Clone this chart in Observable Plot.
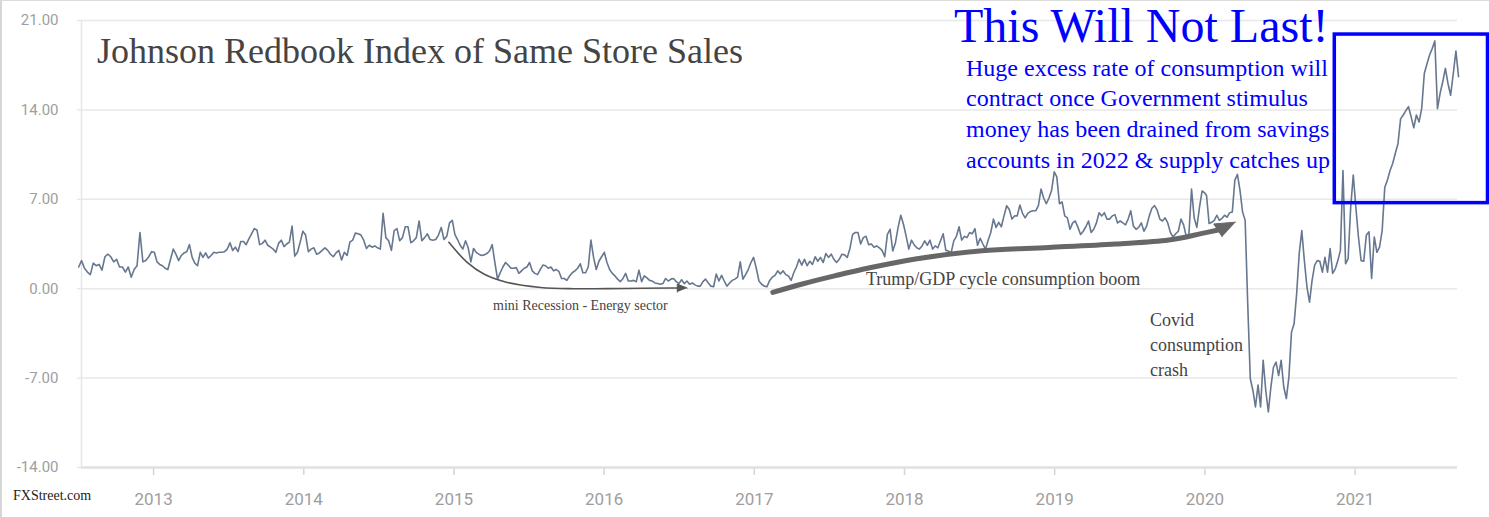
<!DOCTYPE html>
<html>
<head>
<meta charset="utf-8">
<script src="https://cdn.jsdelivr.net/npm/d3@7"></script>
<script src="https://cdn.jsdelivr.net/npm/@observablehq/plot@0.6"></script>
<style>
  html, body { margin: 0; padding: 0; background: #fff; }
  #wrap { position: relative; width: 1489px; height: 517px; overflow: hidden; }
  #border { position: absolute; left: 0; top: 0; width: 1489px; height: 517px; box-sizing: border-box;
            border-left: 2px solid #d6d6d6; border-top: 1px solid #dcdcdc; pointer-events: none; }
</style>
</head>
<body>
<div id="wrap"><div id="border"></div></div>
<script>
// ---- Johnson Redbook weekly same-store sales (% y/y) ----
const v2012 = [1.7, 2.2, 1.6, 1.3, 1.1, 2.0, 1.8, 1.9, 1.45, 2.5, 2.7, 2.5, 2.1, 2.3, 1.7, 1.7, 1.3, 1.7, 0.9, 1.5, 1.8, 4.4, 2.1, 2.2, 2.5, 2.9];
const v2013 = [2.85, 2.1, 1.9, 1.8, 1.6, 1.5, 2.3, 3.1, 2.7, 2.2, 2.6, 2.8, 2.9, 3.45, 2.45, 2.0, 1.8, 2.85, 2.45, 2.8, 2.4, 2.6, 2.85, 2.8, 2.85, 2.85, 2.9, 3.1, 3.6, 3.0, 3.25, 2.9, 3.7, 3.7, 3.45, 3.9, 4.3, 4.7, 4.6, 3.45, 3.55, 3.8, 3.4, 3.25, 3.1, 2.85, 3.55, 3.8, 3.3, 3.5, 3.65, 4.9, 2.55, 2.85, 3.65, 4.5];
const v2014 = [4.2, 2.9, 3.1, 3.2, 2.7, 2.8, 3.0, 3.2, 3.0, 2.7, 2.5, 2.8, 3.0, 2.25, 2.85, 2.6, 3.65, 3.8, 4.35, 4.3, 4.2, 3.8, 3.15, 3.4, 3.25, 3.35, 3.2, 3.1, 5.9, 4.0, 3.75, 3.0, 4.55, 4.7, 3.75, 4.0, 4.85, 4.85, 3.6, 3.75, 4.0, 5.3, 3.75, 4.0, 4.3, 3.85, 3.8, 3.85, 4.2, 4.8, 3.85, 4.1, 5.15, 5.35];
const v2015 = [4.25, 3.85, 3.4, 3.1, 3.75, 3.2, 2.1, 3.15, 2.85, 2.7, 2.6, 2.65, 2.75, 2.95, 3.45, 2.05, 0.75, 1.25, 1.7, 2.05, 1.85, 1.6, 1.6, 1.65, 1.2, 1.4, 1.6, 1.7, 2.05, 1.4, 1.2, 1.1, 1.5, 1.85, 1.8, 1.6, 1.7, 1.4, 1.5, 1.35, 0.8, 0.8, 0.65, 1.0, 1.25, 1.4, 1.6, 1.95, 1.25, 1.25, 1.7, 3.8, 2.45, 1.5, 2.15, 2.5];
const v2016 = [2.85, 2.05, 1.5, 1.2, 1.0, 0.75, 0.55, 0.8, 1.2, 0.6, 0.6, 0.65, 0.55, 1.45, 0.55, 1.0, 0.85, 0.65, 0.6, 0.45, 0.4, 0.35, 0.4, 0.8, 0.6, 0.75, 0.8, 0.55, 0.4, 0.7, 0.4, 0.6, 0.35, 0.45, 0.3, 0.2, 0.2, 0.55, 0.75, 0.45, 0.2, 0.15, 1.15, 0.6, 1.05, 0.6, 0.2, 0.45, 0.65, 0.75, 0.9, 2.1, 0.75, 1.1, 1.5, 2.05, 2.45];
const v2017 = [1.6, 0.6, 0.35, 0.2, 0.15, 0.65, 0.9, 1.05, 1.4, 1.15, 1.4, 1.1, 1.0, 0.65, 1.25, 1.7, 2.3, 1.85, 2.3, 1.8, 2.15, 1.9, 2.5, 2.15, 2.45, 2.05, 2.75, 2.45, 2.7, 2.3, 2.05, 2.3, 2.7, 2.65, 2.45, 3.15, 4.25, 4.4, 4.4, 3.5, 4.0, 4.1, 3.45, 3.5, 3.25, 3.35, 3.2, 3.0, 2.5, 4.25, 4.65, 2.95, 3.6, 4.8, 5.75, 5.05];
const v2018 = [4.1, 3.1, 3.8, 3.45, 3.2, 3.1, 3.35, 3.75, 3.4, 3.8, 3.1, 3.35, 3.2, 3.75, 4.3, 3.0, 2.95, 2.8, 3.75, 4.1, 4.85, 3.8, 4.1, 4.0, 4.4, 4.3, 4.7, 3.4, 3.95, 3.5, 3.1, 3.8, 4.4, 5.45, 4.8, 5.2, 4.85, 5.7, 6.5, 6.2, 5.45, 5.7, 5.7, 6.55, 5.9, 5.55, 5.9, 6.05, 6.1, 6.1, 6.5, 7.8, 7.1, 6.65, 7.1, 7.7, 9.15];
const v2019 = [8.75, 6.65, 6.8, 5.7, 5.55, 4.65, 5.15, 5.3, 4.8, 4.25, 4.5, 4.85, 5.3, 4.4, 4.65, 5.15, 5.95, 5.7, 5.95, 5.45, 5.45, 5.7, 5.8, 5.15, 5.3, 5.15, 5.0, 5.45, 6.1, 4.9, 4.65, 4.8, 5.15, 4.5, 4.9, 5.7, 6.3, 6.5, 6.15, 5.45, 5.3, 5.55, 5.15, 4.4, 4.05, 4.3, 4.5, 5.45, 5.0, 4.1, 4.25, 7.8, 5.55, 4.8, 6.35, 7.65, 7.5];
const v2020 = [7.3, 5.1, 5.2, 5.35, 5.75, 5.35, 5.5, 5.75, 5.6, 5.95, 6.0, 8.5, 8.95, 7.7, 6.0, 5.35, -1.2, -7.05, -7.95, -9.25, -7.55, -9.25, -5.6, -7.95, -9.65, -7.7, -6.15, -5.75, -6.8, -5.6, -7.7, -8.6, -6.9, -3.4, -2.75, -0.4, 2.75, 4.55, 2.2, 0.15, -1.05, 0.65, 1.85, 2.2, 2.15, 1.3, 2.45, 1.3, 3.15, 1.2, 1.55, 2.2, 3.0, 9.25, 1.95, 2.35, 6.4, 8.9];
const v2021 = [6.4, 4.05, 2.2, 2.15, 4.2, 4.45, 0.8, 4.05, 2.85, 3.25, 4.55, 7.95, 8.5, 9.25, 9.8, 10.6, 11.35, 13.3, 13.6, 13.95, 14.25, 13.45, 12.6, 13.6, 13.05, 14.1, 16.85, 17.6, 18.3, 18.8, 19.4, 14.1, 15.3, 16.2, 17.25, 16.05, 15.15, 16.85, 18.6, 16.6];

// first and last observation of each year's run (decimal years)
const yearRuns = [v2012, v2013, v2014, v2015, v2016, v2017, v2018, v2019, v2020, v2021];
const runStart = [2012.501, 2013.005, 2014.012, 2015.006, 2016.001, 2017.013, 2018.011, 2019.014, 2020.011, 2021.005];
const runEnd   = [2012.987, 2013.994, 2014.989, 2015.983, 2016.995, 2017.993, 2018.997, 2019.999, 2020.988, 2021.689];

// axis ticks
const xTicks = [2013, 2014, 2015, 2016, 2017, 2018, 2019, 2020, 2021];
const yTicks = [-14, -7, 0, 7, 14, 21];
const xDomain = [2012.52, 2021.682];
const yDomain = [-14, 21];

// annotation shapes, in data units (decimal year, value)
const recessionArrow = [[2014.966, 3.63], [2015.088, 2.06], [2015.199, 1.15], [2015.355, 0.49], [2015.577, 0.10], [2015.796, 0.0], [2016.129, 0.02], [2016.462, 0.05], [2016.50, 0.05]];
const recessionHead = [[2016.553, 0.05], [2016.487, 0.36], [2016.487, -0.26]];
const boomArrow = [[2017.123, -0.29], [2017.319, 0.37], [2017.541, 1.02], [2017.762, 1.62], [2018.073, 2.33], [2018.517, 2.98], [2018.961, 3.23], [2019.405, 3.50], [2019.760, 3.81], [2019.982, 4.33], [2020.097, 4.62]];
const boomHead = [[2020.204, 5.21], [2020.059, 5.07], [2020.115, 4.07]];
const highlightBox = [{x1: 2020.865, x2: 2021.885, y1: 6.7, y2: 19.9}];

// texts
const titleText = "Johnson Redbook Index of Same Store Sales";
const headline = "This Will Not Last!";
const blurb = ["Huge excess rate of consumption will", "contract once Government stimulus", "money has been drained from savings", "accounts in 2022 & supply catches up"];
const recessionLabel = "mini Recession - Energy sector";
const boomLabel = "Trump/GDP cycle consumption boom";
const covidLabel = ["Covid", "consumption", "crash"];
const sourceLabel = "FXStreet.com";

const series = yearRuns.flatMap((vals, k) =>
  vals.map((v, i) => ({t: runStart[k] + i * (runEnd[k] - runStart[k]) / (vals.length - 1), v})));

const pts = a => a.map(([t, v]) => ({t, v}));

const svg = Plot.plot({
  width: 1489,
  height: 517,
  marginLeft: 81,
  marginRight: 32,
  marginTop: 20,
  marginBottom: 50,
  style: {background: "transparent", fontFamily: "Roboto, sans-serif", fontSize: "15px", color: "#9e9e9e", overflow: "visible"},
  x: {domain: xDomain, ticks: xTicks, tickFormat: d => String(d), tickSize: 8, tickPadding: 17, label: null},
  y: {domain: yDomain, ticks: yTicks, tickFormat: d => d.toFixed(2), tickSize: 4, tickPadding: 19, label: null},
  marks: [
    Plot.ruleY(yTicks.filter(d => d > yDomain[0]), {stroke: "#e8e8e8", strokeWidth: 1.5}),
    Plot.ruleY([yDomain[0]], {stroke: "#e0e0e0", strokeWidth: 2.5}),
    Plot.ruleX([xDomain[0]], {stroke: "#e6e6e6", strokeWidth: 1.5}),
    Plot.line(series, {x: "t", y: "v", stroke: "#66778f", strokeWidth: 1.6}),
    Plot.line(pts(recessionArrow), {x: "t", y: "v", curve: "catmull-rom", stroke: "#555", strokeWidth: 1.6}),
    Plot.line(pts(recessionHead), {x: "t", y: "v", fill: "#555", stroke: "#555", strokeWidth: 1}),
    Plot.line(pts(boomArrow), {x: "t", y: "v", curve: "catmull-rom", stroke: "#676767", strokeWidth: 5}),
    Plot.line(pts(boomHead), {x: "t", y: "v", fill: "#676767", stroke: "#676767", strokeWidth: 1}),
    Plot.rect(highlightBox, {x1: "x1", x2: "x2", y1: "y1", y2: "y2", fill: "none", stroke: "#0000ff", strokeWidth: 3.5})
  ]
});

const s = d3.select(svg);
s.selectAll('g[aria-label^="x-axis"] text').attr("font-size", 17).attr("fill", "#9e9e9e");
s.selectAll('g[aria-label^="x-axis"] line, g[aria-label^="x-axis"] path').attr("stroke", "#d4d4d4").attr("stroke-width", 1.5);
s.selectAll('g[aria-label^="y-axis"] text').attr("font-size", 15).attr("fill", "#9e9e9e");
s.selectAll('g[aria-label^="y-axis"] line, g[aria-label^="y-axis"] path').attr("stroke", "#e8e8e8").attr("stroke-width", 1.5);

const serif = "'Liberation Serif', 'Times New Roman', serif";
const addText = (str, x, y, size, fill) =>
  s.append("text").attr("x", x).attr("y", y).attr("text-anchor", "start")
   .attr("font-family", serif).attr("font-size", size).attr("fill", fill).text(str);

addText(titleText, 97, 63, 36, "#444");
addText(headline, 954, 42, 48, "#0000ff");
blurb.forEach((line, i) => addText(line, 966, 75.5 + i * 30.7, 24, "#0000ff"));
addText(recessionLabel, 493, 310, 14, "#444");
addText(boomLabel, 866, 284.5, 18, "#444");
covidLabel.forEach((line, i) => addText(line, 1150, 325.5 + i * 25, 18, "#444"));
addText(sourceLabel, 13, 500, 14, "#222");

document.getElementById("wrap").prepend(svg);
</script>
</body>
</html>
